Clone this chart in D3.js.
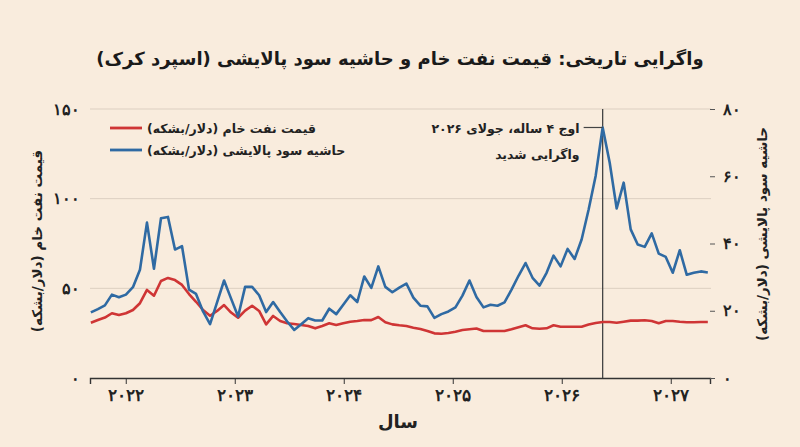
<!DOCTYPE html>
<html lang="fa">
<head>
<meta charset="utf-8">
<script src="https://cdn.jsdelivr.net/npm/d3@7/dist/d3.min.js"></script>
<style>
  html, body { margin: 0; padding: 0; background: #f9ecdd; }
  svg { display: block; font-family: "DejaVu Sans", "Noto Sans", sans-serif; }
</style>
</head>
<body>
<div id="chart"></div>
<script>
// داده ها (خوانده شده از تصویر)
const crudePrice = [
  30.8, 32.3, 33.7, 36.1, 35.1, 36.1, 37.9, 41.7, 49.1, 45.9,
  54.1, 55.8, 54.6, 51.9, 46.8, 42.5, 37.9, 34.7, 37.4, 40.7,
  36.5, 33.6, 37.6, 40.3, 37.4, 29.9, 34.6, 31.8, 30.5, 30.1,
  29.6, 29.0, 27.7, 29.0, 30.5, 29.6, 30.5, 31.4, 31.8, 32.3,
  32.3, 34.0, 31.1, 29.9, 29.4, 29.0, 28.0, 27.3, 26.2, 24.9,
  24.7, 25.1, 25.8, 26.8, 27.2, 27.6, 26.2, 26.2, 26.2, 26.2,
  27.2, 28.3, 29.4, 27.7, 27.5, 27.7, 29.4, 28.6, 28.6, 28.6,
  28.6, 29.8, 30.7, 31.2, 31.2, 30.8, 31.4, 32.0, 32.0, 32.2,
  31.8, 30.5, 31.8, 31.8, 31.4, 31.1, 31.1, 31.2, 31.2
];
const crackSpread = [
  19.5, 20.5, 21.6, 24.8, 24.0, 24.8, 27.0, 32.2, 46.2, 32.5,
  47.5, 47.9, 38.2, 39.2, 26.3, 25.0, 19.8, 16.0, 22.5, 29.0,
  23.6, 18.3, 27.1, 27.1, 24.6, 19.6, 22.6, 19.6, 16.8, 14.3,
  16.0, 17.8, 17.1, 17.1, 20.6, 19.0, 21.8, 24.6, 22.6, 30.2,
  26.8, 33.2, 27.1, 25.5, 26.9, 28.1, 23.9, 21.5, 21.3, 17.9,
  19.0, 19.8, 21.0, 24.5, 29.0, 24.1, 21.0, 21.8, 21.5, 22.5,
  26.3, 30.4, 34.2, 29.8, 27.5, 31.3, 36.4, 33.2, 38.4, 35.4,
  41.2, 50.1, 60.1, 74.5, 64.1, 50.4, 58.1, 44.2, 39.7, 39.0,
  43.0, 37.0, 36.0, 31.3, 38.0, 30.7, 31.3, 31.7, 31.4
];
const firstYear = 2021.68, lastYear = 2027.34;
const yearTicks = [2022, 2023, 2024, 2025, 2026, 2027];
const leftTicks = [0, 50, 100, 150];
const rightTicks = [0, 20, 40, 60, 80];

const titleText = "واگرایی تاریخی: قیمت نفت خام و حاشیه سود پالایشی (اسپرد کرک)";
const crudeLabel = "قیمت نفت خام (دلار/بشکه)";
const spreadLabel = "حاشیه سود پالایشی (دلار/بشکه)";
const noteLines = ["اوج ۴ ساله، جولای ۲۰۲۶", "واگرایی شدید"];

// تبدیل ارقام به فارسی
const faDigits = "۰۱۲۳۴۵۶۷۸۹";
const toFa = n => String(n).replace(/\d/g, d => faDigits[+d]);

const width = 800, height = 447;
const margin = { top: 109, right: 90, bottom: 69, left: 90 };
const innerW = width - margin.left - margin.right;
const innerH = height - margin.top - margin.bottom;

const step = (lastYear - firstYear) / (crudePrice.length - 1);
const dates = crudePrice.map((d, i) => firstYear + i * step);

const svg = d3.select("#chart").append("svg")
  .attr("width", width).attr("height", height);

svg.append("rect").attr("width", width).attr("height", height).attr("fill", "#f9ecdd");

const g = svg.append("g").attr("transform", `translate(${margin.left},${margin.top})`);

const x = d3.scaleLinear().domain([2021.672, 2027.36]).range([0, innerW]);
const yL = d3.scaleLinear().domain([0, 150]).range([innerH, 0]);
const yR = d3.scaleLinear().domain([0, 80]).range([innerH, 0]);

// خطوط شبکه
g.append("g").selectAll("line")
  .data(leftTicks.filter(d => d > 0))
  .enter().append("line")
  .attr("x1", 0).attr("x2", innerW + 1)
  .attr("y1", d => yL(d)).attr("y2", d => yL(d))
  .attr("stroke", "#dccfc1").attr("stroke-width", 1);

// محور x
const xAxis = g.append("g")
  .attr("transform", `translate(0,${innerH})`)
  .call(d3.axisBottom(x).tickValues(yearTicks).tickSize(6).tickPadding(5).tickFormat(toFa));
xAxis.select(".domain").attr("stroke", "#333").attr("stroke-width", 1.4);
xAxis.selectAll(".tick line").attr("stroke", "#333");
xAxis.selectAll("text").attr("font-size", 17).attr("font-weight", "bold").attr("fill", "#222");

// محور چپ
const leftAxis = g.append("g")
  .call(d3.axisLeft(yL).tickValues(leftTicks).tickSize(0).tickPadding(10).tickFormat(toFa));
leftAxis.select(".domain").remove();
leftAxis.selectAll("text").attr("font-size", 16).attr("font-weight", "bold").attr("fill", "#222");

// محور راست
const rightAxis = g.append("g")
  .attr("transform", `translate(${innerW},0)`)
  .call(d3.axisRight(yR).tickValues(rightTicks).tickSize(5).tickPadding(8).tickFormat(toFa));
rightAxis.select(".domain").remove();
rightAxis.selectAll(".tick line").attr("stroke", "#555");
rightAxis.selectAll("text").attr("font-size", 16).attr("font-weight", "bold").attr("fill", "#222");

// خط عمودی اوج
const peak = d3.maxIndex(crackSpread);
g.append("line")
  .attr("x1", x(dates[peak])).attr("x2", x(dates[peak]))
  .attr("y1", 0).attr("y2", innerH)
  .attr("stroke", "#444").attr("stroke-width", 1.3);

// خطوط داده
const crudeLine = d3.line().x((d, i) => x(dates[i])).y(d => yL(d));
const spreadLine = d3.line().x((d, i) => x(dates[i])).y(d => yR(d));

g.append("path").datum(crudePrice)
  .attr("fill", "none").attr("stroke", "#cf3535").attr("stroke-width", 2.6)
  .attr("stroke-linejoin", "round").attr("d", crudeLine);

g.append("path").datum(crackSpread)
  .attr("fill", "none").attr("stroke", "#2f6aa3").attr("stroke-width", 2.6)
  .attr("stroke-linejoin", "round").attr("d", spreadLine);

// یادداشت
const px = x(dates[peak]), py = yR(crackSpread[peak]);
g.append("line")
  .attr("x1", px - 19).attr("x2", px)
  .attr("y1", py).attr("y2", py)
  .attr("stroke", "#444").attr("stroke-width", 1.2);
g.append("g").selectAll("text")
  .data(noteLines)
  .enter().append("text")
  .attr("direction", "rtl")
  .attr("x", px - 23).attr("y", (d, i) => py + 6 + i * 26)
  .attr("text-anchor", "start")
  .attr("font-size", 12.5).attr("font-weight", "bold").attr("fill", "#222")
  .text(d => d);

// راهنما
const legend = g.append("g").attr("transform", "translate(20,19)");
[[crudeLabel, "#cf3535"], [spreadLabel, "#2f6aa3"]].forEach((item, i) => {
  legend.append("line")
    .attr("x1", 0).attr("x2", 32).attr("y1", i * 22).attr("y2", i * 22)
    .attr("stroke", item[1]).attr("stroke-width", 2.8);
  legend.append("text")
    .attr("direction", "rtl")
    .attr("x", 37).attr("y", i * 22 + 5)
    .attr("text-anchor", "end")
    .attr("font-size", 12.5).attr("font-weight", "bold").attr("fill", "#222")
    .text(item[0]);
});

// عنوان
svg.append("text")
  .attr("direction", "rtl")
  .attr("x", width / 2).attr("y", 65)
  .attr("text-anchor", "middle")
  .attr("font-size", 18).attr("font-weight", "bold").attr("fill", "#1a1a1a")
  .text(titleText);

// عنوان محورها
svg.append("text")
  .attr("direction", "rtl")
  .attr("transform", `translate(38,${margin.top + 132}) rotate(-90)`)
  .attr("text-anchor", "middle").attr("dominant-baseline", "middle")
  .attr("font-size", 13.5).attr("font-weight", "bold").attr("fill", "#222")
  .text(crudeLabel);

svg.append("text")
  .attr("direction", "rtl")
  .attr("transform", `translate(763,${margin.top + 125}) rotate(-90)`)
  .attr("text-anchor", "middle").attr("dominant-baseline", "middle")
  .attr("font-size", 13.5).attr("font-weight", "bold").attr("fill", "#222")
  .text(spreadLabel);

svg.append("text")
  .attr("direction", "rtl")
  .attr("x", 398).attr("y", 428)
  .attr("text-anchor", "middle")
  .attr("font-size", 18).attr("font-weight", "bold").attr("fill", "#222")
  .text("سال");
</script>
</body>
</html>
